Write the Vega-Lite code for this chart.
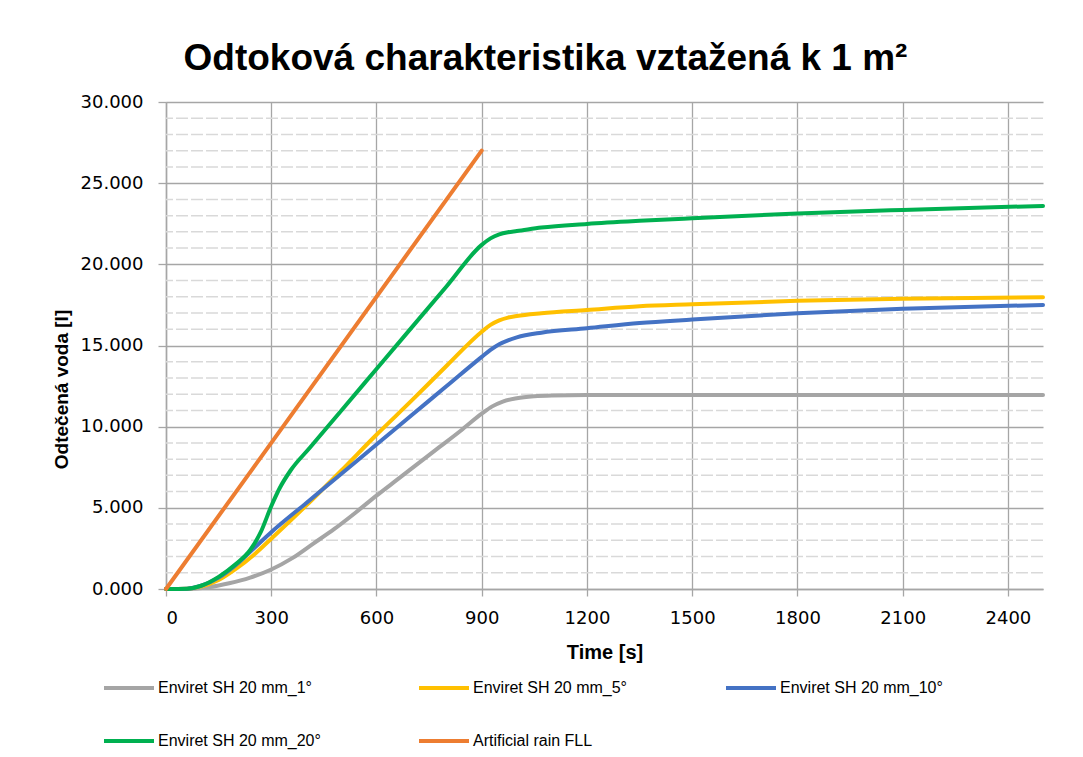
{
  "$schema": "https://vega.github.io/schema/vega-lite/v6.json",
  "autosize": "none",
  "width": 877,
  "height": 487,
  "padding": {"left": 166, "top": 102, "right": 40, "bottom": 168},
  "background": "white",
  "title": {
    "text": "Odtoková charakteristika vztažená k 1 m²",
    "font": "Liberation Sans",
    "fontSize": 37,
    "fontWeight": "bold",
    "color": "#000000",
    "anchor": "middle",
    "dx": -59,
    "offset": 15
  },
  "datasets": {
    "minor": [
      {"v": 1}, {"v": 2}, {"v": 3}, {"v": 4}, {"v": 6}, {"v": 7}, {"v": 8}, {"v": 9},
      {"v": 11}, {"v": 12}, {"v": 13}, {"v": 14}, {"v": 16}, {"v": 17}, {"v": 18}, {"v": 19},
      {"v": 21}, {"v": 22}, {"v": 23}, {"v": 24}, {"v": 26}, {"v": 27}, {"v": 28}, {"v": 29}
    ],
    "series": [
      {"s": "Enviret SH 20 mm_1°", "t": 0, "v": 0},
      {"s": "Enviret SH 20 mm_1°", "t": 60, "v": 0},
      {"s": "Enviret SH 20 mm_1°", "t": 120, "v": 0.1},
      {"s": "Enviret SH 20 mm_1°", "t": 180, "v": 0.35},
      {"s": "Enviret SH 20 mm_1°", "t": 240, "v": 0.7},
      {"s": "Enviret SH 20 mm_1°", "t": 300, "v": 1.2},
      {"s": "Enviret SH 20 mm_1°", "t": 360, "v": 1.9},
      {"s": "Enviret SH 20 mm_1°", "t": 420, "v": 2.8},
      {"s": "Enviret SH 20 mm_1°", "t": 480, "v": 3.7},
      {"s": "Enviret SH 20 mm_1°", "t": 540, "v": 4.7},
      {"s": "Enviret SH 20 mm_1°", "t": 600, "v": 5.75},
      {"s": "Enviret SH 20 mm_1°", "t": 660, "v": 6.75},
      {"s": "Enviret SH 20 mm_1°", "t": 720, "v": 7.75},
      {"s": "Enviret SH 20 mm_1°", "t": 780, "v": 8.75},
      {"s": "Enviret SH 20 mm_1°", "t": 840, "v": 9.75},
      {"s": "Enviret SH 20 mm_1°", "t": 900, "v": 10.8},
      {"s": "Enviret SH 20 mm_1°", "t": 930, "v": 11.25},
      {"s": "Enviret SH 20 mm_1°", "t": 960, "v": 11.55},
      {"s": "Enviret SH 20 mm_1°", "t": 1000, "v": 11.75},
      {"s": "Enviret SH 20 mm_1°", "t": 1050, "v": 11.87},
      {"s": "Enviret SH 20 mm_1°", "t": 1100, "v": 11.92},
      {"s": "Enviret SH 20 mm_1°", "t": 1200, "v": 11.95},
      {"s": "Enviret SH 20 mm_1°", "t": 1500, "v": 11.95},
      {"s": "Enviret SH 20 mm_1°", "t": 1800, "v": 11.95},
      {"s": "Enviret SH 20 mm_1°", "t": 2100, "v": 11.95},
      {"s": "Enviret SH 20 mm_1°", "t": 2500, "v": 11.95},

      {"s": "Enviret SH 20 mm_5°", "t": 0, "v": 0},
      {"s": "Enviret SH 20 mm_5°", "t": 60, "v": 0.02},
      {"s": "Enviret SH 20 mm_5°", "t": 100, "v": 0.15},
      {"s": "Enviret SH 20 mm_5°", "t": 150, "v": 0.55},
      {"s": "Enviret SH 20 mm_5°", "t": 200, "v": 1.25},
      {"s": "Enviret SH 20 mm_5°", "t": 250, "v": 2.1},
      {"s": "Enviret SH 20 mm_5°", "t": 300, "v": 3.1},
      {"s": "Enviret SH 20 mm_5°", "t": 400, "v": 5.15},
      {"s": "Enviret SH 20 mm_5°", "t": 500, "v": 7.3},
      {"s": "Enviret SH 20 mm_5°", "t": 600, "v": 9.5},
      {"s": "Enviret SH 20 mm_5°", "t": 700, "v": 11.6},
      {"s": "Enviret SH 20 mm_5°", "t": 800, "v": 13.75},
      {"s": "Enviret SH 20 mm_5°", "t": 900, "v": 15.85},
      {"s": "Enviret SH 20 mm_5°", "t": 925, "v": 16.27},
      {"s": "Enviret SH 20 mm_5°", "t": 950, "v": 16.55},
      {"s": "Enviret SH 20 mm_5°", "t": 975, "v": 16.72},
      {"s": "Enviret SH 20 mm_5°", "t": 1000, "v": 16.82},
      {"s": "Enviret SH 20 mm_5°", "t": 1070, "v": 16.99},
      {"s": "Enviret SH 20 mm_5°", "t": 1200, "v": 17.19},
      {"s": "Enviret SH 20 mm_5°", "t": 1350, "v": 17.42},
      {"s": "Enviret SH 20 mm_5°", "t": 1500, "v": 17.54},
      {"s": "Enviret SH 20 mm_5°", "t": 1800, "v": 17.75},
      {"s": "Enviret SH 20 mm_5°", "t": 2100, "v": 17.88},
      {"s": "Enviret SH 20 mm_5°", "t": 2500, "v": 17.97},

      {"s": "Enviret SH 20 mm_10°", "t": 0, "v": 0},
      {"s": "Enviret SH 20 mm_10°", "t": 60, "v": 0.02},
      {"s": "Enviret SH 20 mm_10°", "t": 100, "v": 0.2},
      {"s": "Enviret SH 20 mm_10°", "t": 150, "v": 0.7},
      {"s": "Enviret SH 20 mm_10°", "t": 200, "v": 1.5},
      {"s": "Enviret SH 20 mm_10°", "t": 250, "v": 2.5},
      {"s": "Enviret SH 20 mm_10°", "t": 300, "v": 3.5},
      {"s": "Enviret SH 20 mm_10°", "t": 400, "v": 5.3},
      {"s": "Enviret SH 20 mm_10°", "t": 500, "v": 7.1},
      {"s": "Enviret SH 20 mm_10°", "t": 600, "v": 8.9},
      {"s": "Enviret SH 20 mm_10°", "t": 700, "v": 10.7},
      {"s": "Enviret SH 20 mm_10°", "t": 800, "v": 12.5},
      {"s": "Enviret SH 20 mm_10°", "t": 900, "v": 14.3},
      {"s": "Enviret SH 20 mm_10°", "t": 925, "v": 14.73},
      {"s": "Enviret SH 20 mm_10°", "t": 950, "v": 15.08},
      {"s": "Enviret SH 20 mm_10°", "t": 975, "v": 15.32},
      {"s": "Enviret SH 20 mm_10°", "t": 1000, "v": 15.5},
      {"s": "Enviret SH 20 mm_10°", "t": 1070, "v": 15.79},
      {"s": "Enviret SH 20 mm_10°", "t": 1200, "v": 16.06},
      {"s": "Enviret SH 20 mm_10°", "t": 1350, "v": 16.38},
      {"s": "Enviret SH 20 mm_10°", "t": 1500, "v": 16.6},
      {"s": "Enviret SH 20 mm_10°", "t": 1800, "v": 16.99},
      {"s": "Enviret SH 20 mm_10°", "t": 2100, "v": 17.27},
      {"s": "Enviret SH 20 mm_10°", "t": 2500, "v": 17.5},

      {"s": "Enviret SH 20 mm_20°", "t": 0, "v": 0},
      {"s": "Enviret SH 20 mm_20°", "t": 60, "v": 0.02},
      {"s": "Enviret SH 20 mm_20°", "t": 100, "v": 0.2},
      {"s": "Enviret SH 20 mm_20°", "t": 150, "v": 0.75},
      {"s": "Enviret SH 20 mm_20°", "t": 200, "v": 1.55},
      {"s": "Enviret SH 20 mm_20°", "t": 240, "v": 2.4},
      {"s": "Enviret SH 20 mm_20°", "t": 270, "v": 3.5},
      {"s": "Enviret SH 20 mm_20°", "t": 300, "v": 5.1},
      {"s": "Enviret SH 20 mm_20°", "t": 325, "v": 6.25},
      {"s": "Enviret SH 20 mm_20°", "t": 355, "v": 7.3},
      {"s": "Enviret SH 20 mm_20°", "t": 410, "v": 8.7},
      {"s": "Enviret SH 20 mm_20°", "t": 500, "v": 11.0},
      {"s": "Enviret SH 20 mm_20°", "t": 600, "v": 13.55},
      {"s": "Enviret SH 20 mm_20°", "t": 700, "v": 16.1},
      {"s": "Enviret SH 20 mm_20°", "t": 800, "v": 18.65},
      {"s": "Enviret SH 20 mm_20°", "t": 900, "v": 21.2},
      {"s": "Enviret SH 20 mm_20°", "t": 925, "v": 21.6},
      {"s": "Enviret SH 20 mm_20°", "t": 950, "v": 21.85},
      {"s": "Enviret SH 20 mm_20°", "t": 975, "v": 21.98},
      {"s": "Enviret SH 20 mm_20°", "t": 1000, "v": 22.05},
      {"s": "Enviret SH 20 mm_20°", "t": 1070, "v": 22.27},
      {"s": "Enviret SH 20 mm_20°", "t": 1200, "v": 22.49},
      {"s": "Enviret SH 20 mm_20°", "t": 1350, "v": 22.68},
      {"s": "Enviret SH 20 mm_20°", "t": 1500, "v": 22.84},
      {"s": "Enviret SH 20 mm_20°", "t": 1800, "v": 23.13},
      {"s": "Enviret SH 20 mm_20°", "t": 2100, "v": 23.35},
      {"s": "Enviret SH 20 mm_20°", "t": 2500, "v": 23.6},

      {"s": "Artificial rain FLL", "t": 0, "v": 0},
      {"s": "Artificial rain FLL", "t": 900, "v": 27.0}
    ]
  },
  "layer": [
    {
      "data": {"name": "minor"},
      "mark": {"type": "rule", "stroke": "#D9D9D9", "strokeWidth": 1.5, "strokeDash": [12, 3]},
      "encoding": {
        "y": {
          "field": "v", "type": "quantitative",
          "scale": {"domain": [0, 30], "nice": false},
          "axis": {
            "title": "Odtečená voda [l]",
            "titleY": 287,
            "values": [0, 5, 10, 15, 20, 25, 30],
            "format": ".3f",
            "grid": true, "gridColor": "#A6A6A6", "gridWidth": 1.3,
            "domainColor": "#A6A6A6", "domainWidth": 1.5,
            "tickColor": "#A6A6A6", "tickSize": 8, "tickWidth": 1.3,
            "labelFont": "DejaVu Sans", "labelFontSize": 18, "labelColor": "#000000", "labelPadding": 15,
            "titleFont": "Liberation Sans", "titleFontSize": 19, "titleFontWeight": "bold", "titleColor": "#000000", "titlePadding": 9
          }
        }
      }
    },
    {
      "data": {"name": "series"},
      "mark": {"type": "line", "strokeWidth": 4, "interpolate": "monotone", "strokeCap": "round"},
      "encoding": {
        "x": {
          "field": "t", "type": "quantitative",
          "scale": {"domain": [0, 2500], "nice": false, "zero": true},
          "axis": {
            "title": "Time [s]",
            "values": [0, 300, 600, 900, 1200, 1500, 1800, 2100, 2400],
            "format": "d",
            "grid": true, "gridColor": "#A6A6A6", "gridWidth": 1.3,
            "domainColor": "#A6A6A6", "domainWidth": 1.5,
            "tickColor": "#A6A6A6", "tickSize": 7, "tickWidth": 1.3,
            "labelFont": "DejaVu Sans", "labelFontSize": 18, "labelColor": "#000000", "labelPadding": 13,
            "titleFont": "Liberation Sans", "titleFontSize": 20, "titleFontWeight": "bold", "titleColor": "#000000", "titlePadding": 15
          }
        },
        "y": {
          "field": "v", "type": "quantitative",
          "scale": {"domain": [0, 30], "nice": false},
          "axis": {
            "title": "Odtečená voda [l]",
            "titleY": 287,
            "values": [0, 5, 10, 15, 20, 25, 30],
            "format": ".3f",
            "grid": true, "gridColor": "#A6A6A6", "gridWidth": 1.3,
            "domainColor": "#A6A6A6", "domainWidth": 1.5,
            "tickColor": "#A6A6A6", "tickSize": 8, "tickWidth": 1.3,
            "labelFont": "DejaVu Sans", "labelFontSize": 18, "labelColor": "#000000", "labelPadding": 15,
            "titleFont": "Liberation Sans", "titleFontSize": 19, "titleFontWeight": "bold", "titleColor": "#000000", "titlePadding": 9
          }
        },
        "color": {
          "field": "s", "type": "nominal",
          "scale": {
            "domain": ["Enviret SH 20 mm_1°", "Enviret SH 20 mm_5°", "Enviret SH 20 mm_10°", "Enviret SH 20 mm_20°", "Artificial rain FLL"],
            "range": ["#A5A5A5", "#FFC000", "#4472C4", "#00B050", "#ED7D31"]
          },
          "legend": {
            "title": null,
            "orient": "none",
            "legendX": -64,
            "legendY": 559,
            "direction": "horizontal",
            "columns": 3,
            "columnPadding": 90,
            "rowPadding": 18,
            "symbolType": "stroke",
            "symbolSize": 2500,
            "symbolStrokeWidth": 4,
            "labelFont": "Liberation Sans",
            "labelFontSize": 16,
            "labelColor": "#000000",
            "labelOffset": 2,
            "labelLimit": 300
          }
        },
        "order": {"field": "t", "type": "quantitative"}
      }
    }
  ],
  "config": {
    "view": {"stroke": null}
  }
}
